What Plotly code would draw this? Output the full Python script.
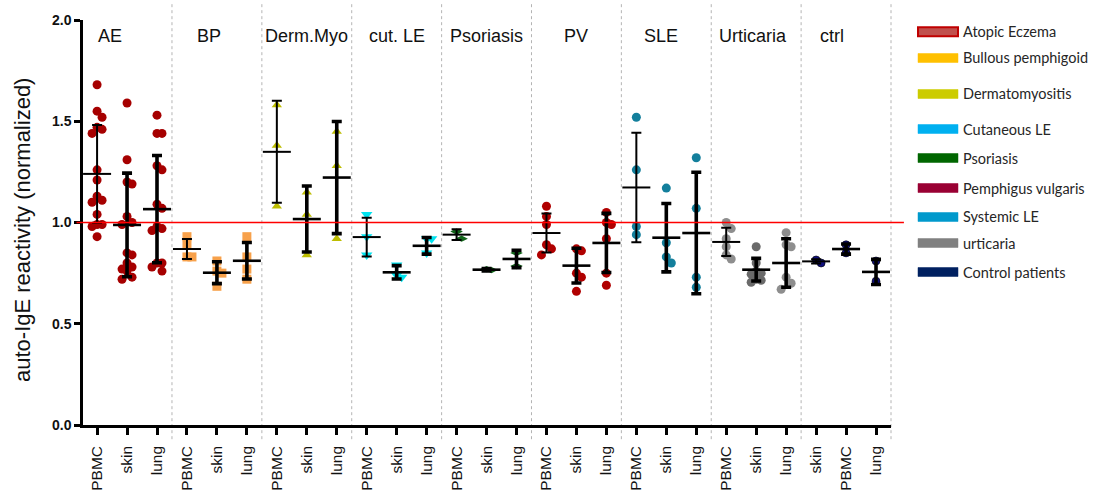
import plotly.graph_objects as go

# ---- data -------------------------------------------------------------
groups = ["AE", "BP", "Derm.Myo", "cut. LE", "Psoriasis", "PV", "SLE", "Urticaria", "ctrl"]
sample_labels = [
    ["PBMC", "skin", "lung"], ["PBMC", "skin", "lung"], ["PBMC", "skin", "lung"],
    ["PBMC", "skin", "lung"], ["PBMC", "skin", "lung"], ["PBMC", "skin", "lung"],
    ["PBMC", "skin", "lung"], ["PBMC", "skin", "lung"], ["skin", "PBMC", "lung"],
]

ae = [
    [1.68, 1.55, 1.52, 1.47, 1.46, 1.44, 1.26, 1.21, 1.13, 1.11, 1.10, 1.04, 0.99, 0.99, 0.98, 0.93],
    [1.59, 1.31, 1.20, 1.19, 1.03, 1.00, 0.99, 0.85, 0.84, 0.80, 0.78, 0.77, 0.76, 0.73, 0.72],
    [1.53, 1.44, 1.44, 1.28, 1.26, 1.09, 1.07, 0.98, 0.97, 0.96, 0.80, 0.80, 0.78, 0.76],
]
bp = [[0.93, 0.89, 0.83, 0.83], [0.81, 0.76, 0.75, 0.685], [0.93, 0.83, 0.77, 0.72]]
derm = [[1.58, 1.38, 1.08], [1.15, 1.04, 0.84], [1.45, 1.28, 0.92]]
cut_le = [[1.04, 0.93, 0.84], [0.79, 0.74, 0.73], [0.92, 0.92, 0.85]]
psoriasis = [[0.955, 0.92], [0.77, 0.765], [0.85, 0.785]]
pv = [[1.08, 1.03, 0.99, 0.89, 0.87, 0.84], [0.87, 0.86, 0.75, 0.73, 0.66],
      [1.05, 1.00, 0.99, 0.92, 0.75, 0.69]]
sle = [[1.52, 1.26, 0.98, 0.94], [1.17, 0.90, 0.83, 0.80], [1.32, 1.07, 0.73, 0.68]]
urticaria = [[1.00, 0.97, 0.92, 0.88, 0.84, 0.82],
             [0.88, 0.80, 0.76, 0.75, 0.745, 0.72, 0.715, 0.705],
             [0.95, 0.89, 0.88, 0.73, 0.70, 0.67]]
ctrl = [[0.815, 0.80], [0.89, 0.85], [0.81, 0.71]]
values = [ae, bp, derm, cut_le, psoriasis, pv, sle, urticaria, ctrl]

# mean and SD per sample (same order as above)
means = [[1.240, 0.988, 1.066], [0.869, 0.752, 0.811], [1.349, 1.017, 1.222],
         [0.928, 0.754, 0.885], [0.940, 0.767, 0.820], [0.948, 0.787, 0.899],
         [1.173, 0.925, 0.948], [0.904, 0.767, 0.800], [0.808, 0.869, 0.756]]
sds = [[0.241, 0.256, 0.265], [0.049, 0.054, 0.090], [0.252, 0.163, 0.277],
       [0.096, 0.033, 0.041], [0.027, 0.006, 0.043], [0.096, 0.086, 0.146],
       [0.270, 0.169, 0.300], [0.070, 0.056, 0.120], [0.010, 0.025, 0.062]]

legend_names = ["Atopic Eczema", "Bullous pemphigoid", "Dermatomyositis", "Cutaneous LE",
                "Psoriasis", "Pemphigus vulgaris", "Systemic LE", "urticaria", "Control patients"]
legend_colors = ["#C0504D", "#FFC000", "#CCCC00", "#00B0F0", "#006600",
                 "#990033", "#0099CC", "#808080", "#002060"]

# ---- styling ------------------------------------------------------------
W, H = 1105, 493
M_L, M_R, M_T, M_B = 83, 214, 20, 68
PLOT_W, PLOT_H = W - M_L - M_R, H - M_T - M_B
X_MIN, X_MAX = -0.47, 26.5
Y_MIN, Y_MAX = 0.0, 2.0
PX_X = PLOT_W / (X_MAX - X_MIN)
PX_Y = PLOT_H / (Y_MAX - Y_MIN)

FONT = "Liberation Sans, Arial, sans-serif"

marker_styles = [
    dict(symbol="circle", size=9, color=["#A60000"] * 3),
    dict(symbol="square", size=9, color=["#F7A14B"] * 3),
    dict(symbol="triangle-up", size=9, color=["#BDBD00"] * 3),
    dict(symbol="triangle-down", size=10, color=["#00E3EF"] * 3),
    dict(symbol="diamond-wide", size=9, color=["#12651A"] * 3),
    dict(symbol="circle", size=9, color=["#B00000"] * 3),
    dict(symbol="circle", size=9, color=["#137F9C"] * 3),
    dict(symbol="circle", size=9, color=["#8E8E8E", "#6A6A6A", "#8E8E8E"]),
    dict(symbol="circle", size=8, color=["#10107E"] * 3),
]
label_pos = [0.44, 3.72, 6.99, 10.02, 12.99, 16.0, 18.83, 21.9, 24.54]


def swarm_offsets(vals, step_px=5.0, diam_px=8.0):
    """Spread overlapping points over three columns (centre, right, left) in axis
    units; when all three collide the least crowded column is used."""
    placed, offs = [], []
    cands = [0.0, step_px, -step_px]
    for v in vals:
        y = v * PX_Y
        best, best_gap = 0.0, -1.0
        for cand in cands:
            gap = min([((cand - px) ** 2 + (y - py) ** 2) ** 0.5 for px, py in placed] or [99.0])
            if gap >= diam_px:
                best = cand
                break
            if gap > best_gap:
                best, best_gap = cand, gap
        placed.append((best, y))
        offs.append(best / PX_X)
    return offs


fig = go.Figure()

tickvals, ticktext = [], []
for g, grp in enumerate(groups):
    style = marker_styles[g]
    for s in range(3):
        pos = 3 * g + s
        tickvals.append(pos)
        ticktext.append(sample_labels[g][s])
        vals = values[g][s]
        offs = swarm_offsets(vals)
        fig.add_trace(go.Scatter(
            x=[pos + o for o in offs], y=vals, mode="markers",
            marker=dict(symbol=style["symbol"], size=style["size"], color=style["color"][s],
                        line=dict(width=0.6 if grp == "ctrl" else 0, color="black")),
            showlegend=False, hoverinfo="y", cliponaxis=False,
        ))

# mean line with SD whiskers, drawn over the points
for g, grp in enumerate(groups):
    for s in range(3):
        pos = 3 * g + s
        thin = s == 0
        fig.add_trace(go.Scatter(
            x=[pos], y=[means[g][s]], mode="markers",
            marker=dict(symbol="line-ew", size=20,
                        line=dict(width=2 if thin else 2.6, color="black")),
            error_y=dict(type="data", array=[sds[g][s]], color="black",
                         thickness=2 if thin else 3.6, width=5),
            showlegend=False, hoverinfo="y",
        ))

shapes = []
# dotted separators between disease groups
for g in range(1, len(groups)):
    shapes.append(dict(type="line", xref="x", yref="paper", x0=3 * g - 0.5, x1=3 * g - 0.5,
                       y0=-0.035, y1=1.04, line=dict(color="#B4B4B4", width=1, dash="dot"),
                       layer="below"))
shapes.append(dict(type="line", xref="paper", yref="paper", x0=1, x1=1, y0=-0.035, y1=1.04,
                   line=dict(color="#B4B4B4", width=1, dash="dot"), layer="below"))
# reference level at 1.0
shapes.append(dict(type="line", xref="paper", yref="y", x0=-0.008, x1=1.016, y0=1.0, y1=1.0,
                   line=dict(color="#FF0000", width=1.5), layer="above"))


def px_x(px):
    return (px - M_L) / PLOT_W


def px_y(py):
    return (H - M_B - py) / PLOT_H


annotations = []
for g, grp in enumerate(groups):
    annotations.append(dict(x=label_pos[g], y=px_y(36), xref="x", yref="paper", text=grp,
                            showarrow=False, font=dict(family=FONT, size=18, color="#111111"),
                            xanchor="center", yanchor="middle"))

annotations.append(dict(x=px_x(22), y=px_y(230), xref="paper", yref="paper",
                        text="auto-IgE reactivity (normalized)", textangle=-90, showarrow=False,
                        font=dict(family=FONT, size=22, color="#111111"),
                        xanchor="center", yanchor="middle"))

# legend panel on the right
legend_y = [31.7, 58, 94, 129, 158, 188, 217, 243, 272]
for name, col, yc in zip(legend_names, legend_colors, legend_y):
    is_ae = name == "Atopic Eczema"
    shapes.append(dict(type="rect", xref="paper", yref="paper",
                       x0=px_x(918), x1=px_x(958), y0=px_y(yc + 4.5), y1=px_y(yc - 4.5),
                       fillcolor=col,
                       line=dict(color="#C00000" if is_ae else col, width=2 if is_ae else 0.5)))
    annotations.append(dict(x=px_x(961), y=px_y(yc), xref="paper", yref="paper", text=name,
                            showarrow=False, xanchor="left", yanchor="middle",
                            font=dict(family="Lato, Carlito, sans-serif", size=14.5,
                                      color="#262626")))

fig.update_layout(
    width=W, height=H,
    margin=dict(l=M_L, r=M_R, t=M_T, b=M_B, pad=0, autoexpand=False),
    paper_bgcolor="white", plot_bgcolor="white",
    shapes=shapes, annotations=annotations,
    showlegend=False,
    xaxis=dict(range=[X_MIN, X_MAX], tickmode="array", tickvals=tickvals, ticktext=ticktext,
               tickangle=-90, ticks="outside", ticklen=7, tickwidth=2.5, tickcolor="black",
               showline=True, linewidth=2.5, linecolor="black", showgrid=False, zeroline=False,
               automargin=False, ticklabelstandoff=5,
               tickfont=dict(family=FONT, size=15.5, color="#111111")),
    yaxis=dict(range=[Y_MIN, Y_MAX], tickmode="array", tickvals=[0, 0.5, 1.0, 1.5, 2.0],
               ticktext=["0.0", "0.5", "1.0", "1.5", "2.0"], ticks="outside", ticklen=6,
               tickwidth=2.5, tickcolor="black", showline=True, linewidth=2.5,
               linecolor="black", showgrid=False, zeroline=False, automargin=False,
               tickfont=dict(family=FONT, size=14, color="#111111", weight="bold")),
)

fig.write_html("out.html")
